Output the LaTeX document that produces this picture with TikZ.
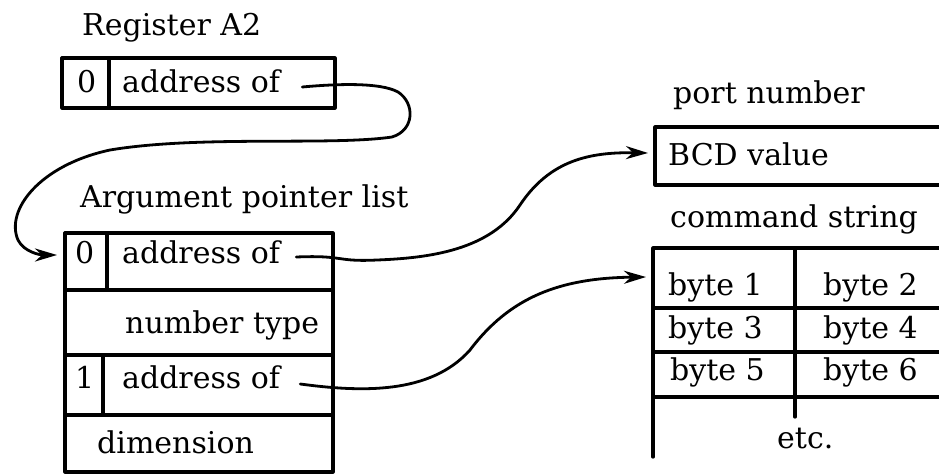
\documentclass[tikz,border=0pt]{standalone}
\usepackage{fontspec}
\setmainfont{DejaVu Serif}
\usetikzlibrary{arrows.meta,calc}
\begin{document}
\begin{tikzpicture}[x=1pt,y=-1pt,
    box/.style={line width=3.2pt,line cap=round,line join=round},
    lbl/.style={anchor=base west,inner sep=0pt,font=\fontsize{30}{36}\selectfont},
    conn/.style={line width=2.8pt,line cap=round,
      -{Stealth[length=22pt,width=13pt,inset=7pt]}}]
  \useasboundingbox (0,0) rectangle (939,474);

  % Register A2
  \node[lbl] (regtitle) at (82,35) {Register A2};
  \draw[box] (62,58) rectangle (335,108);
  \draw[box] (109,58) -- (109,108);
  \node[lbl] (regidx) at (77,92) {0};
  \node[lbl] (regaddr) at (122,92) {address of};

  % Argument pointer list
  \node[lbl] (argtitle) at (80,207) {Argument pointer list};
  \draw[box] (65,233) rectangle (333,472);
  \draw[box] (65,290) -- (333,290);
  \draw[box] (65,355) -- (333,355);
  \draw[box] (65,415) -- (333,415);
  \draw[box] (107,233) -- (107,290);
  \draw[box] (103,355) -- (103,415);
  \node[lbl] (arg0idx) at (75,263) {0};
  \node[lbl] (arg0addr) at (122,263) {address of};
  \node[lbl] (argtype) at (125,333) {number type};
  \node[lbl] (arg1idx) at (75,388) {1};
  \node[lbl] (arg1addr) at (122,388) {address of};
  \node[lbl] (argdim) at (97,453) {dimension};

  % port number
  \node[lbl] (porttitle) at (673,103) {port number};
  \draw[box] (939,127) -- (655,127) -- (655,185) -- (939,185);
  \node[lbl] (bcd) at (668,165) {BCD value};

  % command string
  \node[lbl] (cmdtitle) at (670,227) {command string};
  \draw[box] (939,248) -- (653,248) -- (653,457);
  \draw[box] (653,308) -- (939,308);
  \draw[box] (653,352) -- (939,352);
  \draw[box] (653,397) -- (939,397);
  \draw[box] (795,248) -- (795,417);
  \node[lbl] (b1) at (668,295) {byte 1};
  \node[lbl] (b2) at (823,295) {byte 2};
  \node[lbl] (b3) at (668,338) {byte 3};
  \node[lbl] (b4) at (823,338) {byte 4};
  \node[lbl] (b5) at (670,380) {byte 5};
  \node[lbl] (b6) at (823,380) {byte 6};
  \node[lbl] (etc) at (777,448) {etc.};

  % pointer targets
  \coordinate (argin) at (57,255);
  \coordinate (bcdin) at (648,153);
  \coordinate (cmdin) at (646,277);

  % pointers
  \draw[conn] ($(regaddr.base east)+(22,-5)$)
    .. controls (335,84) and (380,82) .. (398,92)
    .. controls (415,103) and (415,130) .. (392,137)
    .. controls (330,146) and (200,135) .. (110,150)
    .. controls (40,165) and (5,210) .. (18,240)
    .. controls (24,252) and (40,255) .. (argin);
  \draw[conn] ($(arg0addr.base east)+(16,-6)$)
    .. controls (345,255) and (335,262) .. (377,260)
    .. controls (430,258) and (490,250) .. (520,205)
    .. controls (550,160) and (590,152) .. (bcdin);
  \draw[conn] ($(arg1addr.base east)+(20,-4)$)
    .. controls (360,392) and (430,395) .. (470,350)
    .. controls (510,297) and (560,278) .. (cmdin);
\end{tikzpicture}
\end{document}
